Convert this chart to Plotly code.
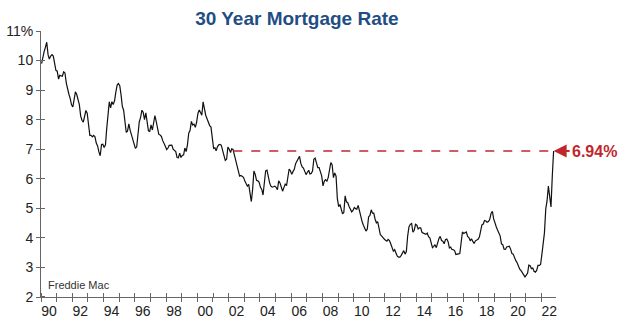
import plotly.graph_objects as go

# Monthly 30-year fixed mortgage rate (%), Jan 1990 - Oct 2022 (Freddie Mac)
r1990 = [9.90, 10.20, 10.30, 10.45, 10.62, 10.20, 10.05, 10.15, 10.20, 10.15, 9.95, 9.67]
r1991 = [9.64, 9.37, 9.50, 9.49, 9.47, 9.62, 9.58, 9.24, 9.01, 8.86, 8.71, 8.50]
r1992 = [8.43, 8.76, 8.94, 8.85, 8.67, 8.51, 8.13, 7.98, 7.92, 8.09, 8.31, 8.22]
r1993 = [7.91, 7.47, 7.47, 7.42, 7.47, 7.42, 7.21, 7.11, 6.91, 6.78, 7.16, 7.17]
r1994 = [7.06, 7.15, 7.68, 8.32, 8.60, 8.40, 8.61, 8.51, 8.64, 8.93, 9.17, 9.22]
r1995 = [9.15, 8.83, 8.46, 8.32, 7.96, 7.57, 7.61, 7.86, 7.64, 7.48, 7.38, 7.20]
r1996 = [7.03, 7.08, 7.62, 7.93, 8.07, 8.32, 8.25, 8.00, 8.23, 7.92, 7.62, 7.60]
r1997 = [7.82, 7.65, 7.90, 8.14, 7.94, 7.69, 7.50, 7.48, 7.43, 7.29, 7.21, 7.10]
r1998 = [6.99, 7.04, 7.13, 7.14, 7.14, 7.00, 6.95, 6.92, 6.72, 6.71, 6.87, 6.72]
r1999 = [6.79, 6.81, 7.04, 6.92, 7.15, 7.55, 7.63, 7.94, 7.82, 7.85, 7.74, 7.91]
r2000 = [8.21, 8.33, 8.24, 8.15, 8.60, 8.29, 8.15, 8.03, 7.91, 7.80, 7.75, 7.38]
r2001 = [7.03, 7.05, 6.95, 7.08, 7.15, 7.16, 7.13, 6.95, 6.82, 6.62, 6.66, 7.07]
r2002 = [7.00, 6.89, 7.01, 6.99, 6.81, 6.65, 6.49, 6.29, 6.09, 6.11, 6.07, 6.05]
r2003 = [5.92, 5.84, 5.75, 5.81, 5.48, 5.23, 5.63, 6.26, 6.15, 5.95, 5.93, 5.88]
r2004 = [5.71, 5.64, 5.45, 5.83, 6.27, 6.29, 6.06, 5.87, 5.75, 5.72, 5.73, 5.75]
r2005 = [5.71, 5.63, 5.93, 5.86, 5.72, 5.58, 5.70, 5.82, 5.77, 6.07, 6.33, 6.27]
r2006 = [6.15, 6.25, 6.32, 6.51, 6.60, 6.68, 6.76, 6.52, 6.40, 6.36, 6.24, 6.14]
r2007 = [6.22, 6.29, 6.16, 6.18, 6.26, 6.66, 6.70, 6.57, 6.38, 6.38, 6.21, 6.10]
r2008 = [5.76, 5.92, 5.97, 5.92, 6.04, 6.32, 6.55, 6.48, 6.04, 6.20, 6.09, 5.33]
r2009 = [5.06, 5.13, 5.00, 4.81, 4.86, 5.42, 5.22, 5.19, 5.06, 4.95, 4.88, 4.93]
r2010 = [5.03, 4.99, 4.97, 5.10, 4.89, 4.74, 4.56, 4.43, 4.35, 4.23, 4.30, 4.71]
r2011 = [4.76, 4.95, 4.84, 4.84, 4.64, 4.51, 4.55, 4.27, 4.11, 4.07, 3.99, 3.96]
r2012 = [3.92, 3.89, 3.95, 3.91, 3.80, 3.68, 3.55, 3.60, 3.50, 3.38, 3.35, 3.35]
r2013 = [3.41, 3.53, 3.57, 3.45, 3.54, 4.07, 4.37, 4.46, 4.49, 4.19, 4.26, 4.46]
r2014 = [4.43, 4.30, 4.34, 4.34, 4.19, 4.16, 4.13, 4.12, 4.16, 4.04, 4.00, 3.86]
r2015 = [3.67, 3.71, 3.77, 3.67, 3.84, 3.98, 4.05, 3.91, 3.89, 3.80, 3.94, 3.96]
r2016 = [3.87, 3.66, 3.69, 3.61, 3.60, 3.57, 3.44, 3.44, 3.46, 3.47, 3.77, 4.20]
r2017 = [4.15, 4.17, 4.20, 4.05, 4.01, 3.90, 3.97, 3.88, 3.81, 3.90, 3.92, 3.95]
r2018 = [4.03, 4.33, 4.44, 4.47, 4.59, 4.57, 4.53, 4.55, 4.63, 4.83, 4.90, 4.64]
r2019 = [4.46, 4.37, 4.27, 4.14, 4.07, 3.80, 3.77, 3.62, 3.61, 3.69, 3.70, 3.72]
r2020 = [3.62, 3.47, 3.45, 3.31, 3.23, 3.16, 3.02, 2.94, 2.89, 2.83, 2.77, 2.68]
r2021 = [2.74, 2.81, 3.08, 3.06, 2.96, 2.98, 2.87, 2.84, 2.90, 3.07, 3.07, 3.10]
r2022 = [3.45, 3.76, 4.17, 4.98, 5.25, 5.75, 5.41, 5.05, 6.11, 6.94]

rates = (r1990 + r1991 + r1992 + r1993 + r1994 + r1995 + r1996 + r1997 + r1998 + r1999
         + r2000 + r2001 + r2002 + r2003 + r2004 + r2005 + r2006 + r2007 + r2008 + r2009
         + r2010 + r2011 + r2012 + r2013 + r2014 + r2015 + r2016 + r2017 + r2018 + r2019
         + r2020 + r2021 + r2022)
dates = [f"{1990 + i // 12}-{i % 12 + 1:02d}-15" for i in range(len(rates))]

years = list(range(1990, 2023))
x_labels = [f"{y % 100:02d}" if y % 2 == 0 else "" for y in years]
y_ticks = [2, 3, 4, 5, 6, 7, 8, 9, 10, 11]
y_labels = ["2", "3", "4", "5", "6", "7", "8", "9", "10", "11%"]
ref_start = "2002-04-20"

title_text = "30 Year Mortgage Rate"
source_text = "Freddie Mac"

RED = "#C0272D"
AXIS = "#666666"
FONT = "Liberation Sans, Arial, sans-serif"
x_range = ["1990-01-01", "2022-12-10"]

last_val = rates[-1]
last_date = dates[-1]

fig = go.Figure()
fig.add_trace(go.Scatter(x=dates, y=rates, mode="lines",
                         line=dict(color="#111111", width=1.2), hoverinfo="skip",
                         showlegend=False))

fig.add_shape(type="line", xref="x", yref="y", x0=ref_start, x1=last_date,
              y0=last_val, y1=last_val, opacity=1,
              line=dict(color=RED, width=1.6, dash="dash"))

fig.add_annotation(x=last_date, y=last_val, xref="x", yref="y",
                   text=f"<b>{last_val:.2f}%</b>", showarrow=True,
                   ax=16, ay=0, xanchor="left", arrowhead=2, arrowsize=1.3,
                   arrowwidth=2, arrowcolor=RED, standoff=0,
                   font=dict(family=FONT, size=16, color=RED))

fig.add_annotation(x=0.01, y=0.015, xref="paper", yref="paper",
                   text=source_text, showarrow=False, xanchor="left", yanchor="bottom",
                   font=dict(family=FONT, size=11, color="#333333"))

fig.update_layout(
    template="simple_white",
    width=629, height=327,
    margin=dict(l=41, r=73, t=31, b=30, autoexpand=False),
    paper_bgcolor="white", plot_bgcolor="white",
    title=dict(text=f"<b>{title_text}</b>", x=0.472, xanchor="center", y=0.945,
               yanchor="middle", font=dict(family=FONT, size=19, color="#1F4E85")),
    font=dict(family=FONT, size=14, color="#222222"),
    xaxis=dict(type="date", range=x_range, showgrid=False, zeroline=False,
               automargin=False, showline=True, linecolor=AXIS, linewidth=1,
               tickmode="array", tickvals=[f"{y}-01-01" for y in years],
               ticktext=x_labels, ticklabelshift=8, ticklabelstandoff=-3,
               ticks="outside", ticklen=4, tickwidth=1, tickcolor=AXIS,
               tickfont=dict(family=FONT, size=14, color="#222222"),
               minor=dict(tickmode="array", tickvals=[f"{y}-01-01 08:00" for y in years],
                          ticks="inside", ticklen=4, tickwidth=1, tickcolor=AXIS)),
    yaxis=dict(range=[2, 11], showgrid=False, zeroline=False,
               automargin=False, showline=True, linecolor=AXIS, linewidth=1,
               tickmode="array", tickvals=y_ticks, ticktext=y_labels,
               ticks="outside", ticklen=4, tickwidth=1, tickcolor=AXIS,
               tickfont=dict(family=FONT, size=14, color="#222222"),
               minor=dict(tickmode="array", tickvals=[v + 0.002 for v in y_ticks],
                          ticks="inside", ticklen=4, tickwidth=1, tickcolor=AXIS)),
)

fig.write_html("out.html")
